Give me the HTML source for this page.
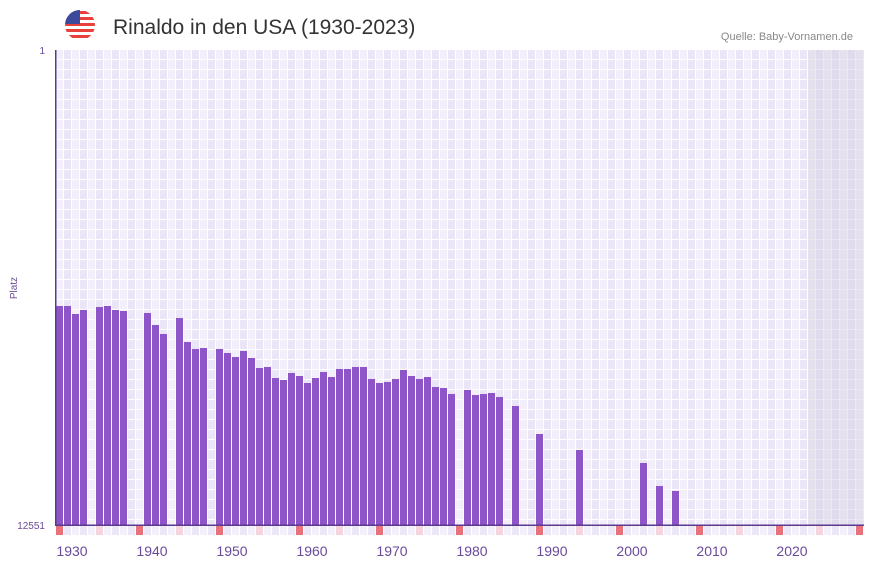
<!DOCTYPE html>
<html><head><meta charset="utf-8"><style>
html,body{margin:0;padding:0;background:#fff;}
svg{display:block;font-family:"Liberation Sans",sans-serif;}
</style></head><body>
<svg width="873" height="567" viewBox="0 0 873 567">
<defs>
<pattern id="g" x="56" y="50" width="16" height="10" patternUnits="userSpaceOnUse">
<rect width="16" height="10" fill="#fff"/>
<rect x="0" y="0" width="7" height="9" fill="#f2effb"/>
<rect x="8" y="0" width="7" height="9" fill="#ebe6f7"/>
</pattern>
<pattern id="gg" x="56" y="50" width="16" height="10" patternUnits="userSpaceOnUse">
<rect width="16" height="10" fill="#ebe8f1"/>
<rect x="0" y="0" width="7" height="9" fill="#e4e0ee"/>
<rect x="8" y="0" width="7" height="9" fill="#e0dbec"/>
</pattern>
<clipPath id="fc"><circle cx="80" cy="25" r="15"/></clipPath>
</defs>
<rect x="56" y="50" width="808" height="475" fill="url(#g)"/>
<rect x="808" y="50" width="56" height="475" fill="url(#gg)"/>
<!-- flag -->
<g clip-path="url(#fc)">
<rect x="65" y="10" width="30" height="30" fill="#fff"/>
<rect x="65" y="11" width="30" height="3" fill="#e8413b"/>
<rect x="65" y="17" width="30" height="3" fill="#e8413b"/>
<rect x="65" y="23" width="30" height="3" fill="#e8413b"/>
<rect x="65" y="29" width="30" height="3" fill="#e8413b"/>
<rect x="65" y="35" width="30" height="3" fill="#e8413b"/>
<rect x="65" y="10" width="15" height="14" fill="#3b4a9a"/>
</g>
<text x="113" y="34" font-size="21" fill="#333">Rinaldo in den USA (1930-2023)</text>
<text x="853" y="40" font-size="11" fill="#888" text-anchor="end">Quelle: Baby-Vornamen.de</text>
<text x="45" y="54" font-size="10" fill="#6a4a9a" text-anchor="end">1</text>
<text x="45" y="529" font-size="10" fill="#6a4a9a" text-anchor="end">12551</text>
<text x="17" y="288" font-size="10" fill="#6a4a9a" text-anchor="middle" transform="rotate(-90 17 288)">Platz</text>
<g fill="#8e55c8" id="bars"></g>
<g id="strip"></g>
<rect x="55" y="50" width="1.5" height="476" fill="#5b3a8e"/>
<rect x="55" y="524.5" width="809" height="1.5" fill="#5b3a8e"/>
<g font-size="14" fill="#6a4a9a" text-anchor="middle">
<text x="72" y="556">1930</text><text x="152" y="556">1940</text><text x="232" y="556">1950</text>
<text x="312" y="556">1960</text><text x="392" y="556">1970</text><text x="472" y="556">1980</text>
<text x="552" y="556">1990</text><text x="632" y="556">2000</text><text x="712" y="556">2010</text>
<text x="792" y="556">2020</text>
</g>
</svg>
<script>
var d={1930:306,1931:306,1932:314,1933:310,1935:307,1936:306,1937:310,1938:311,1941:313,1942:325,1943:334,1945:318,1946:342,1947:349,1948:348,1950:349,1951:353,1952:357,1953:351,1954:358,1955:368,1956:367,1957:378,1958:380,1959:373,1960:376,1961:383,1962:378,1963:372,1964:377,1965:369,1966:369,1967:367,1968:367,1969:379,1970:383,1971:382,1972:379,1973:370,1974:376,1975:379,1976:377,1977:387,1978:388,1979:394,1981:390,1982:395,1983:394,1984:393,1985:397,1987:406,1990:434,1995:450,2003:463,2005:486,2007:491};
var ns="http://www.w3.org/2000/svg",b=document.getElementById("bars"),s=document.getElementById("strip");
function r(p,x,y,w,h,f){var e=document.createElementNS(ns,"rect");e.setAttribute("x",x);e.setAttribute("y",y);e.setAttribute("width",w);e.setAttribute("height",h);if(f)e.setAttribute("fill",f);p.appendChild(e);}
for(var y in d){r(b,56+(y-1930)*8,d[y],7,525-d[y]);}
for(var y=1930;y<=2030;y++){var x=56+(y-1930)*8,c=(y%10==0)?"#e8717a":(y%5==0)?"#f3d6e0":((y%2)?"#ece7f7":"#f3f0fb");r(s,x,526,7,9,c);}
</script>
</body></html>
